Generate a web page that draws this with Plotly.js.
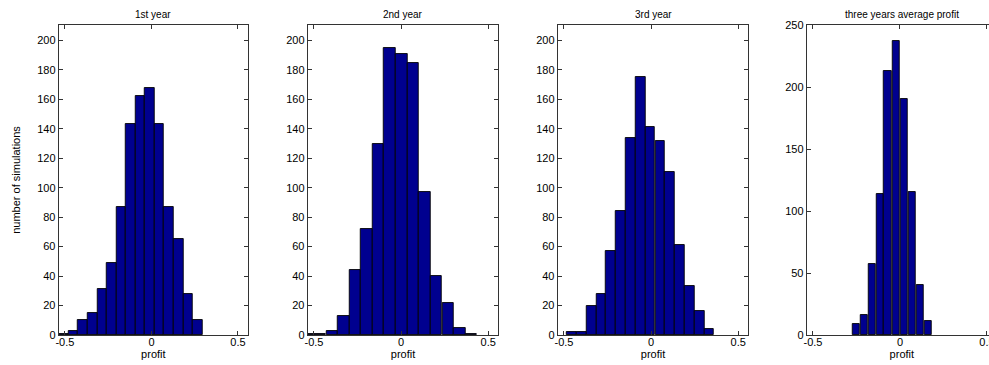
<!DOCTYPE html>
<html>
<head>
<meta charset="utf-8">
<script src="https://cdn.plot.ly/plotly-3.0.1.min.js"></script>
<style>
html, body { margin: 0; padding: 0; overflow: hidden; background: #fff; }
#chart { width: 1000px; height: 365px; }
</style>
</head>
<body>
<div id="chart"></div>
<script>
// ---- data ----
const panelTitles = ['1st year', '2nd year', '3rd year', 'three years average profit'];

const year1Centers = [-0.506, -0.451, -0.396, -0.341, -0.286, -0.230, -0.175, -0.120, -0.065, -0.010, 0.046, 0.101, 0.156, 0.211, 0.266];
const year1Counts  = [1, 3, 10, 15, 31, 49, 87, 143, 162, 168, 143, 87, 65, 28, 10];

const year2Centers = [-0.529, -0.463, -0.396, -0.330, -0.263, -0.197, -0.130, -0.064, 0.003, 0.069, 0.136, 0.202, 0.269, 0.335, 0.402];
const year2Counts  = [1, 1, 3, 13, 44, 72, 130, 195, 191, 185, 97, 40, 22, 5, 1];

const year3Centers = [-0.456, -0.399, -0.343, -0.287, -0.230, -0.174, -0.117, -0.061, -0.005, 0.052, 0.108, 0.165, 0.221, 0.277, 0.334];
const year3Counts  = [2, 2, 20, 28, 57, 84, 134, 175, 141, 132, 111, 61, 33, 16, 4];

const avgCenters = [-0.251, -0.205, -0.159, -0.113, -0.068, -0.022, 0.024, 0.070, 0.116, 0.162];
const avgCounts  = [9, 16, 57, 114, 213, 237, 190, 115, 40, 11];

const xTickVals = [-0.5, 0, 0.5];
const xTickText = ['-0.5', '0', '0.5'];
const yTickVals1 = [0, 20, 40, 60, 80, 100, 120, 140, 160, 180, 200];
const yTickVals4 = [0, 50, 100, 150, 200, 250];

const xLabel = 'profit';
const yLabel = 'number of simulations';

// ---- build figure ----
const W = 1000;
const domainsPx = [[58.7, 248], [307.7, 498.3], [557.7, 748.3], [806.7, 997]];
const series = [
  [year1Centers, year1Counts],
  [year2Centers, year2Counts],
  [year3Centers, year3Counts],
  [avgCenters, avgCounts]
];

const barColor = '#00008F';
const axisColor = '#333333';
const fontFamily = 'Liberation Sans, Arial, sans-serif';
const tickFont = { family: fontFamily, size: 11, color: '#000' };

const traces = series.map((s, i) => ({
  type: 'bar',
  x: s[0],
  y: s[1],
  xaxis: i === 0 ? 'x' : 'x' + (i + 1),
  yaxis: i === 0 ? 'y' : 'y' + (i + 1),
  marker: { color: barColor, line: { color: '#000', width: 0.9 } },
  hoverinfo: 'x+y',
  showlegend: false
}));

const layout = {
  width: W,
  height: 365,
  margin: { l: 0, r: 0, t: 25, b: 30 },
  paper_bgcolor: '#fff',
  plot_bgcolor: '#fff',
  bargap: 0,
  showlegend: false,
  annotations: []
};

domainsPx.forEach((d, i) => {
  const sfx = i === 0 ? '' : String(i + 1);
  const isAvg = i === 3;
  layout['xaxis' + sfx] = {
    domain: [d[0] / W, d[1] / W],
    anchor: 'y' + sfx,
    range: [-0.536, 0.558],
    tickmode: 'array',
    tickvals: xTickVals,
    ticktext: xTickText,
    ticks: 'inside',
    ticklen: 4,
    tickcolor: axisColor,
    ticklabelstandoff: -3,
    showline: true,
    linecolor: axisColor,
    linewidth: 1,
    mirror: 'ticks',
    showgrid: false,
    zeroline: false,
    tickfont: tickFont,
    automargin: false,
    title: { text: xLabel, font: { family: fontFamily, size: 11, color: '#000' }, standoff: 3 }
  };
  layout['yaxis' + sfx] = {
    domain: [0, 1],
    anchor: 'x' + sfx,
    range: isAvg ? [0, 250] : [0, 210.5],
    tickmode: 'array',
    tickvals: isAvg ? yTickVals4 : yTickVals1,
    ticks: 'inside',
    ticklen: 4,
    tickcolor: axisColor,
    showline: true,
    linecolor: axisColor,
    linewidth: 1,
    mirror: 'ticks',
    showgrid: false,
    zeroline: false,
    tickfont: tickFont,
    automargin: false,
    title: i === 0 ? { text: yLabel, font: { family: fontFamily, size: 11, color: '#000' }, standoff: 14 } : { text: '' }
  };
  layout.annotations.push({
    text: panelTitles[i],
    xref: 'paper', yref: 'paper',
    x: (d[0] + d[1]) / 2 / W,
    y: 1,
    yshift: 11,
    xanchor: 'center', yanchor: 'middle',
    showarrow: false,
    font: { family: fontFamily, size: 10, color: '#000' }
  });
});

Plotly.newPlot('chart', traces, layout, { displayModeBar: false });
</script>
</body>
</html>
